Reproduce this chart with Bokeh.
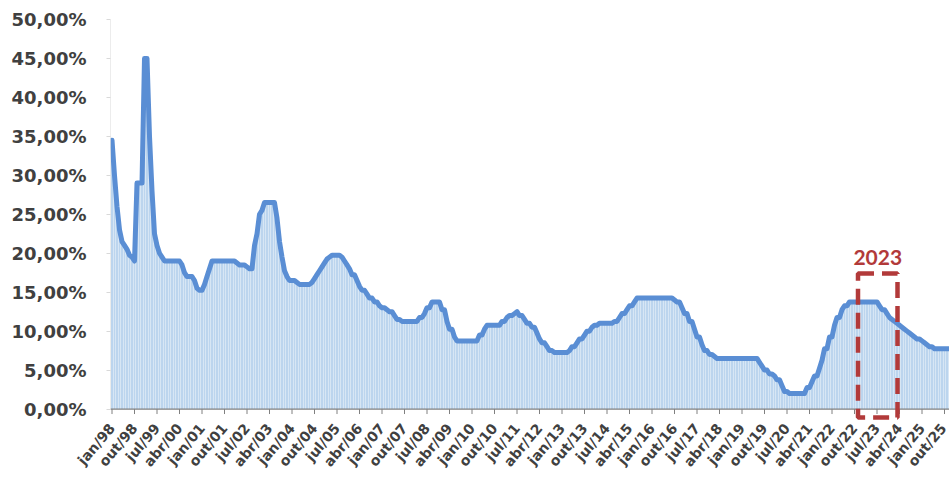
from bokeh.plotting import figure
from bokeh.models import Range1d, FixedTicker, BoxAnnotation, Label, Span
from bokeh.embed import file_html
from bokeh.resources import INLINE

# Monthly rate (%), jan/98 .. dez/25
y1998 = [34.5, 30, 26, 23, 21.5, 21, 20.5, 19.75, 19.5, 19, 29, 29]
y1999 = [29, 45, 45, 35, 28, 22.5, 21, 20, 19.5, 19, 19, 19]
y2000 = [19, 19, 19, 19, 18.5, 17.5, 17, 17, 17, 16.5, 15.5, 15.25]
y2001 = [15.25, 16, 17, 18, 19, 19, 19, 19, 19, 19, 19, 19]
y2002 = [19, 19, 18.75, 18.5, 18.5, 18.5, 18.25, 18, 18, 21, 22.5, 25]
y2003 = [25.5, 26.5, 26.5, 26.5, 26.5, 26.5, 24.5, 21.5, 19.5, 17.75, 17, 16.5]
y2004 = [16.5, 16.5, 16.25, 16, 16, 16, 16, 16, 16.25, 16.75, 17.25, 17.75]
y2005 = [18.25, 18.75, 19.25, 19.5, 19.75, 19.75, 19.75, 19.75, 19.5, 19, 18.5, 18]
y2006 = [17.25, 17.25, 16.5, 15.75, 15.25, 15.25, 14.75, 14.25, 14.25, 13.75, 13.75, 13.25]
y2007 = [13, 13, 12.75, 12.5, 12.5, 12, 11.5, 11.5, 11.25, 11.25, 11.25, 11.25]
y2008 = [11.25, 11.25, 11.25, 11.75, 11.75, 12.25, 13, 13, 13.75, 13.75, 13.75, 13.75]
y2009 = [12.75, 12.75, 11.25, 10.25, 10.25, 9.25, 8.75, 8.75, 8.75, 8.75, 8.75, 8.75]
y2010 = [8.75, 8.75, 8.75, 9.5, 9.5, 10.25, 10.75, 10.75, 10.75, 10.75, 10.75, 10.75]
y2011 = [11.25, 11.25, 11.75, 12, 12, 12.25, 12.5, 12, 12, 11.5, 11, 11]
y2012 = [10.5, 10.5, 9.75, 9, 8.5, 8.5, 8, 7.5, 7.5, 7.25, 7.25, 7.25]
y2013 = [7.25, 7.25, 7.25, 7.5, 8, 8, 8.5, 9, 9, 9.5, 10, 10]
y2014 = [10.5, 10.75, 10.75, 11, 11, 11, 11, 11, 11, 11.25, 11.25, 11.75]
y2015 = [12.25, 12.25, 12.75, 13.25, 13.25, 13.75, 14.25, 14.25, 14.25, 14.25, 14.25, 14.25]
y2016 = [14.25, 14.25, 14.25, 14.25, 14.25, 14.25, 14.25, 14.25, 14.25, 14, 13.75, 13.75]
y2017 = [13, 12.25, 12.25, 11.25, 11.25, 10.25, 9.25, 9.25, 8.25, 7.5, 7.5, 7]
y2018 = [7, 6.75, 6.5, 6.5, 6.5, 6.5, 6.5, 6.5, 6.5, 6.5, 6.5, 6.5]
y2019 = [6.5, 6.5, 6.5, 6.5, 6.5, 6.5, 6.5, 6, 5.5, 5, 5, 4.5]
y2020 = [4.5, 4.25, 3.75, 3.75, 3, 2.25, 2.25, 2, 2, 2, 2, 2]
y2021 = [2, 2, 2.75, 2.75, 3.5, 4.25, 4.25, 5.25, 6.25, 7.75, 7.75, 9.25]
y2022 = [9.25, 10.75, 11.75, 11.75, 12.75, 13.25, 13.25, 13.75, 13.75, 13.75, 13.75, 13.75]
y2023 = [13.75, 13.75, 13.75, 13.75, 13.75, 13.75, 13.75, 13.25, 12.75, 12.75, 12.25, 11.75]
y2024 = [11.5, 11.25, 11, 10.75, 10.5, 10.25, 10, 9.75, 9.5, 9.25, 9, 9]
y2025 = [8.75, 8.5, 8.25, 8, 8, 7.75, 7.75, 7.75, 7.75, 7.75, 7.75, 7.75]

x_tick_labels = ["jan/98", "out/98", "jul/99", "abr/00", "jan/01", "out/01", "jul/02",
                 "abr/03", "jan/04", "out/04", "jul/05", "abr/06", "jan/07", "out/07",
                 "jul/08", "abr/09", "jan/10", "out/10", "jul/11", "abr/12", "jan/13",
                 "out/13", "jul/14", "abr/15", "jan/16", "out/16", "jul/17", "abr/18",
                 "jan/19", "out/19", "jul/20", "abr/21", "jan/22", "out/22", "jul/23",
                 "abr/24", "jan/25", "out/25"]
y_ticks = [0, 5, 10, 15, 20, 25, 30, 35, 40, 45, 50]
y_tick_labels = ["0,00%", "5,00%", "10,00%", "15,00%", "20,00%", "25,00%",
                 "30,00%", "35,00%", "40,00%", "45,00%", "50,00%"]

highlight_label = "2023"
# highlight box extent (month index / %)
box_left, box_right, box_bottom, box_top = 298.4, 314.2, -1.1, 17.4

values = (y1998 + y1999 + y2000 + y2001 + y2002 + y2003 + y2004 + y2005 + y2006 + y2007
          + y2008 + y2009 + y2010 + y2011 + y2012 + y2013 + y2014 + y2015 + y2016 + y2017
          + y2018 + y2019 + y2020 + y2021 + y2022 + y2023 + y2024 + y2025)
months = list(range(len(values)))
x_ticks = [i * 9 for i in range(len(x_tick_labels))]

# frame extends a little below zero so the highlight box can reach under the baseline
p = figure(width=949, height=477, output_backend="svg", toolbar_location=None,
           x_range=Range1d(-0.6, 335.0), y_range=Range1d(-1.47, 50),
           min_border_left=110, min_border_right=0, min_border_top=19,
           min_border_bottom=56)
p.outline_line_color = None
p.grid.visible = False
p.background_fill_color = "white"
p.border_fill_color = "white"

p.vbar(x=months, top=values, bottom=0, width=0.85, fill_color="#bcd5ee", line_color=None)
p.line(months, values, line_color="#5a8ed4", line_width=5, line_join="round",
       line_cap="round")

# category axis baseline at zero and its ticks
p.add_layout(Span(location=0, dimension="width", line_color="#808080", line_width=1.2))
p.segment(x0=x_ticks, y0=[0] * len(x_ticks), x1=x_ticks, y1=[-0.64] * len(x_ticks),
          line_color="#808080", line_width=1)

box = BoxAnnotation(left=box_left, right=box_right, bottom=box_bottom, top=box_top,
                    fill_color=None, fill_alpha=0, line_color="#b23a3a", line_alpha=1.0,
                    line_width=4.5, line_dash="16 8")
p.add_layout(box)
lbl = Label(x=(box_left + box_right) / 2, y=box_top + 2.0, text=highlight_label,
            text_align="center", text_baseline="middle", text_font="Lato",
            text_font_style="bold", text_font_size="21px", text_color="#b23a3a")
p.add_layout(lbl)

xa = p.xaxis[0]
xa.ticker = FixedTicker(ticks=x_ticks)
xa.major_label_overrides = {t: l for t, l in zip(x_ticks, x_tick_labels)}
xa.major_label_orientation = 0.87
xa.major_label_text_font = "DejaVu Sans"
xa.major_label_text_font_style = "bold"
xa.major_label_text_font_size = "14px"
xa.major_label_text_color = "#404040"
xa.major_label_standoff = 5
xa.major_tick_out = 0
xa.major_tick_in = 0
xa.minor_tick_out = 0
xa.minor_tick_in = 0
xa.axis_line_color = None
xa.major_tick_line_color = None
xa.minor_tick_line_color = None

ya = p.yaxis[0]
ya.ticker = FixedTicker(ticks=y_ticks)
ya.major_label_overrides = {t: l for t, l in zip(y_ticks, y_tick_labels)}
ya.major_label_text_font = "DejaVu Sans"
ya.major_label_text_font_style = "bold"
ya.major_label_text_font_size = "18px"
ya.major_label_text_color = "#404040"
ya.major_label_standoff = 20
ya.axis_line_color = None
ya.major_tick_line_color = "#d9d9d9"
ya.major_tick_out = 4
ya.major_tick_in = 0
ya.minor_tick_line_color = None
# faint value-axis line from 0 to 50
p.segment(x0=[-0.6], y0=[0], x1=[-0.6], y1=[50], line_color="#d9d9d9", line_width=1)

open("out.html", "w").write(file_html(p, INLINE))
